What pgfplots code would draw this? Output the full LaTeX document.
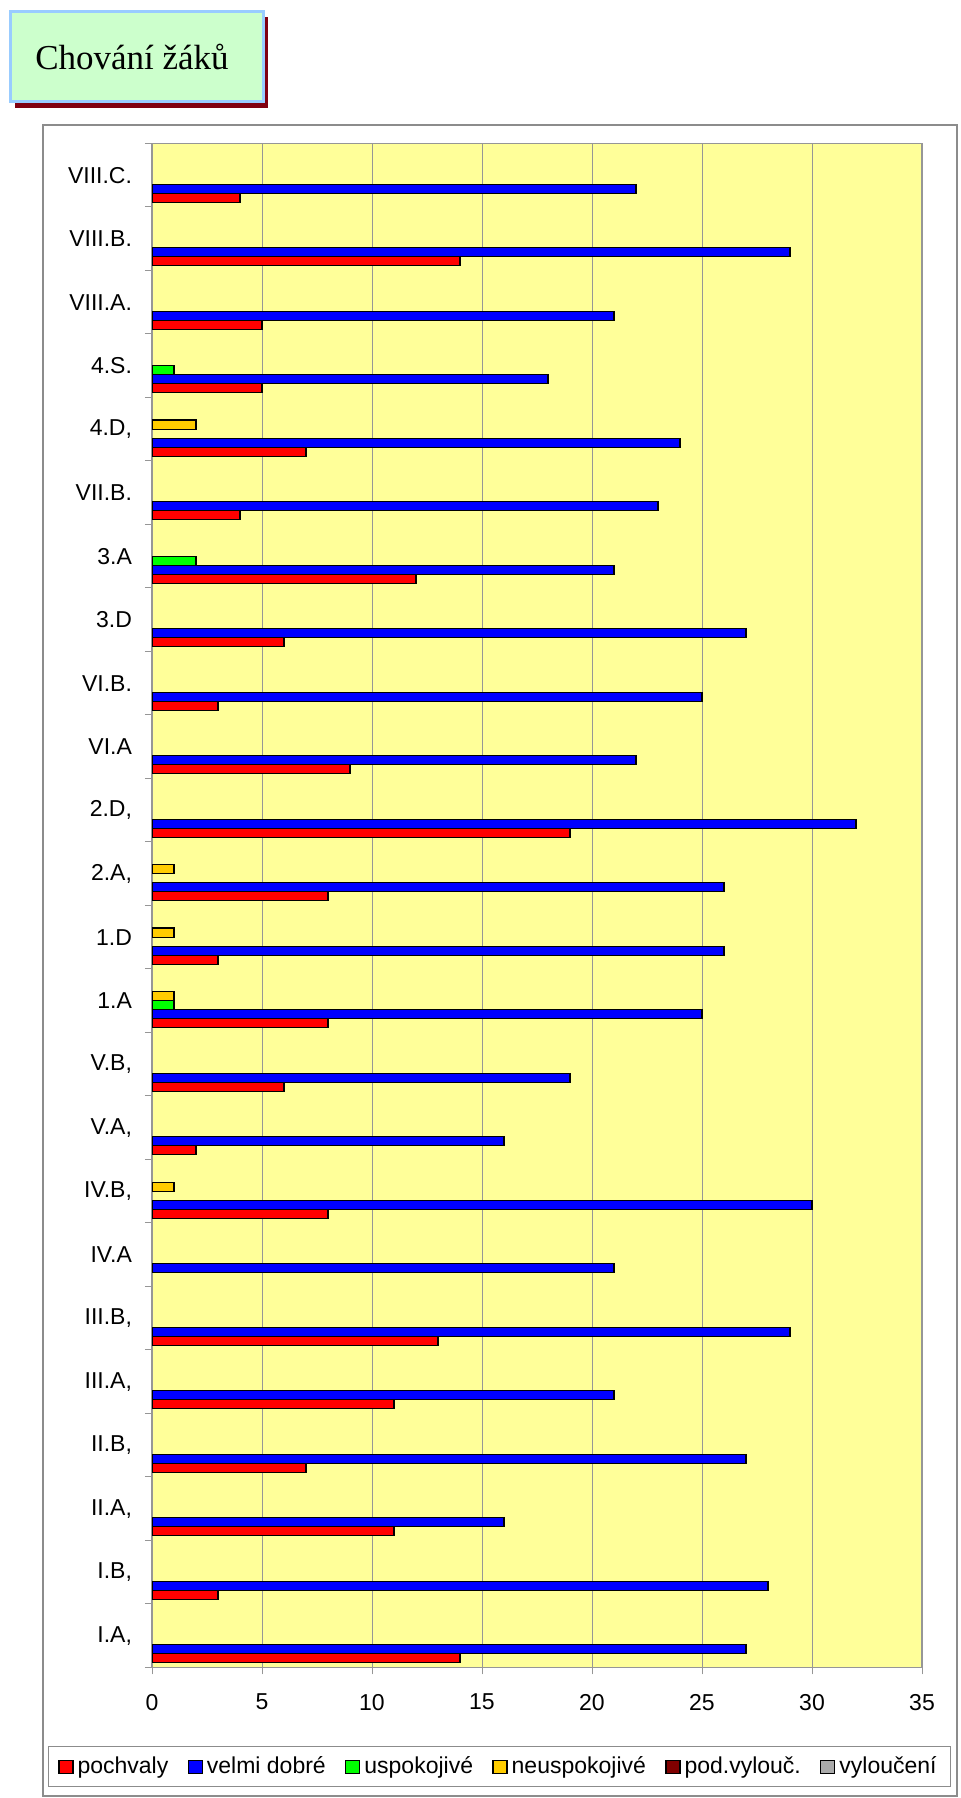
\documentclass[border=0pt]{standalone}
\usepackage{pgfplots}
\pgfplotsset{compat=1.18}
\usepackage{fontspec}
\setmainfont{Liberation Sans}
\newfontfamily\titlefont{Liberation Serif}
\definecolor{plotbg}{RGB}{255,255,153}
\definecolor{cred}{RGB}{255,0,0}
\definecolor{cblue}{RGB}{0,0,255}
\definecolor{cgreen}{RGB}{0,255,0}
\definecolor{cyellow}{RGB}{255,204,0}
\definecolor{cdarkred}{RGB}{128,0,0}
\definecolor{cgray}{RGB}{170,170,170}
\definecolor{titlegreen}{RGB}{204,255,204}
\definecolor{titleblue}{RGB}{153,204,255}
\definecolor{shadowred}{RGB}{128,0,16}
\definecolor{framegray}{RGB}{140,140,140}
\definecolor{gridgray}{RGB}{150,150,150}

% y index: 0 I.A ... 23 VIII.C
\pgfplotstableread{
y x
0 14
1 3
2 11
3 7
4 11
5 13
7 8
8 2
9 6
10 8
11 3
12 8
13 19
14 9
15 3
16 6
17 12
18 4
19 7
20 5
21 5
22 14
23 4
}\pochvaly
\pgfplotstableread{
y x
0 27
1 28
2 16
3 27
4 21
5 29
6 21
7 30
8 16
9 19
10 25
11 26
12 26
13 32
14 22
15 25
16 27
17 21
18 23
19 24
20 18
21 21
22 29
23 22
}\velmidobre
\pgfplotstableread{
y x
10 1
17 2
20 1
}\uspokojive
\pgfplotstableread{
y x
7 1
10 1
11 1
12 1
19 2
}\neuspokojive

\pgfplotsset{
  mybar/.style={xbar, bar width=0.142, draw=black, line width=0.65pt,
    legend image code/.code={\draw[##1, line width=0.6pt] (0pt,-3.25pt) rectangle (7pt,3.25pt);}},
}

\begin{document}
\begin{tikzpicture}
\path[use as bounding box] (0pt,0pt) rectangle (480pt,-899pt);
% title box
\fill[shadowred] (7.5pt,-8.5pt) rectangle (134pt,-54pt);
\filldraw[fill=titlegreen, draw=titleblue, line width=1.5pt] (5pt,-6pt) rectangle (131.5pt,-51pt);
\node[font=\titlefont\fontsize{17.5}{20}\selectfont, inner sep=0pt] at (66pt,-28.5pt) {Chování žáků};
% outer frame
\draw[framegray, line width=0.8pt] (21.5pt,-62.5pt) rectangle (478.5pt,-898pt);
\begin{axis}[
  at={(76pt,-833.7pt)}, anchor=south west,
  scale only axis, width=385pt, height=762pt,
  xmin=0, xmax=35, ymin=-0.5, ymax=23.5,
  xtick={0,5,...,35},
  ytick={-0.5,0.5,...,23.5},
  y tick label as interval,
  yticklabels={{I.A,},{I.B,},{II.A,},{II.B,},{III.A,},{III.B,},{IV.A},{IV.B,},{V.A,},{V.B,},{1.A},{1.D},{2.A,},{2.D,},{VI.A},{VI.B.},{3.D},{3.A},{VII.B.},{4.D,},{4.S.},{VIII.A.},{VIII.B.},{VIII.C.}},
  xmajorgrids, grid style={gridgray, line width=0.5pt},
  tick align=outside, major tick length=3.5pt,
  xtick pos=bottom, ytick pos=left,
  tick style={gridgray, line width=0.5pt},
  axis line style={gridgray, line width=0.6pt},
  axis background/.style={fill=plotbg},
  ticklabel style={font=\fontsize{11.5}{13}\selectfont},
  yticklabel style={xshift=-3pt},
  xticklabel style={yshift=-6.3pt},
  /pgf/number format/assume math mode=true,
  legend style={at={(0.4513,-0.0652)}, anchor=center, legend columns=6,
    draw=framegray, fill=white, font=\fontsize{11.5}{13}\selectfont,
    inner xsep=5pt, inner ysep=3pt,
    /tikz/every even column/.append style={column sep=7.7pt}},
]
\addplot[mybar, fill=cred, bar shift=-0.355] table[x=x,y=y] {\pochvaly};
\addlegendentry{pochvaly}
\addplot[mybar, fill=cblue, bar shift=-0.213] table[x=x,y=y] {\velmidobre};
\addlegendentry{velmi dobré}
\addplot[mybar, fill=cgreen, bar shift=-0.071] table[x=x,y=y] {\uspokojive};
\addlegendentry{uspokojivé}
\addplot[mybar, fill=cyellow, bar shift=0.071] table[x=x,y=y] {\neuspokojive};
\addlegendentry{neuspokojivé}
\addlegendimage{mybar, fill=cdarkred}
\addlegendentry{pod.vylouč.}
\addlegendimage{mybar, fill=cgray}
\addlegendentry{vyloučení}
\end{axis}
\end{tikzpicture}
\end{document}
